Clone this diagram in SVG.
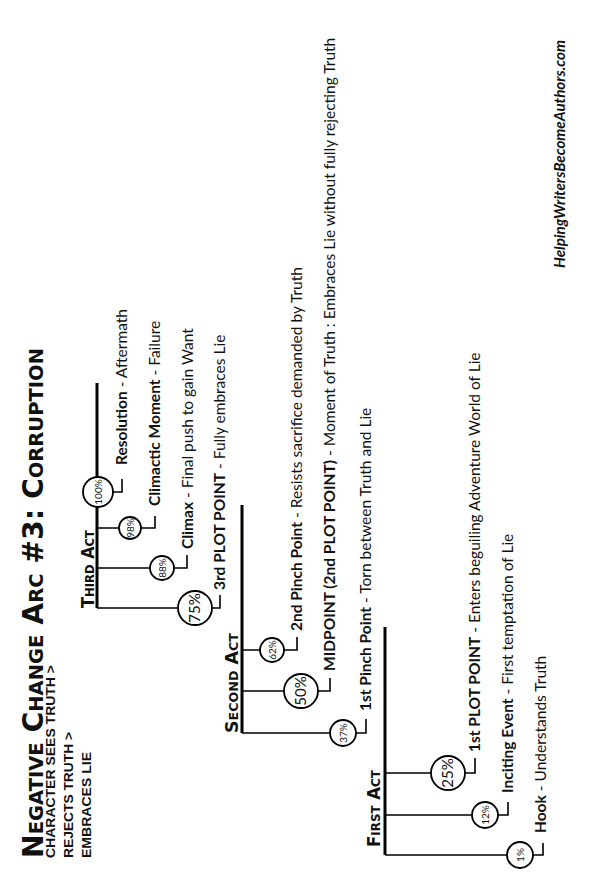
<svg xmlns="http://www.w3.org/2000/svg" width="600" height="884" viewBox="0 0 600 884">
<style>
.act{stroke:#000;stroke-width:3;fill:none}
.br{stroke:#000;stroke-width:1.6;fill:none}
.c{fill:#fff;stroke:#000;stroke-width:1.8}
.lbl{font-family:Lato,"Open Sans","Liberation Sans",sans-serif;font-size:15.5px;fill:#111}
.b{font-weight:bold}
.pct{font-family:Lato,"Open Sans",sans-serif;font-size:10px;fill:#111;text-anchor:middle}
.pctL{font-size:15px}
.title{font-family:"DejaVu Sans","Liberation Sans",sans-serif;font-weight:bold;font-variant:small-caps;font-size:29px;fill:#111}
.sub{font-family:"Liberation Sans","DejaVu Sans",sans-serif;font-weight:bold;font-size:13.5px;fill:#111}
.actl{font-family:"DejaVu Sans","Liberation Sans",sans-serif;font-weight:bold;font-variant:small-caps;font-size:18px;fill:#111}
.site{font-family:Lato,"Open Sans",sans-serif;font-weight:bold;font-style:italic;font-size:15px;fill:#111}
</style>
<rect width="600" height="884" fill="#fff"/>

<g id="title">
<text class="title" transform="translate(43,858) rotate(-90)" textLength="510" lengthAdjust="spacingAndGlyphs">Negative Change Arc #3: Corruption</text>
<text class="sub" transform="translate(55,858) rotate(-90)" textLength="193" lengthAdjust="spacingAndGlyphs">CHARACTER SEES TRUTH &gt;</text>
<text class="sub" transform="translate(73,858) rotate(-90)" textLength="126" lengthAdjust="spacingAndGlyphs">REJECTS TRUTH &gt;</text>
<text class="sub" transform="translate(91,858) rotate(-90)" textLength="106" lengthAdjust="spacingAndGlyphs">EMBRACES LIE</text>
</g>

<g id="connectors">
<path class="act" d="M97,383V608"/>
<path class="act" d="M242,505V733"/>
<path class="act" d="M385,627V855"/>
<path class="br" d="M97,528H119M97,568H150M97,608H178"/>
<path class="br" d="M242,650H260M242,691H284M242,733H330"/>
<path class="br" d="M385,773H431M385,815H472M385,855H507"/>
<path class="br" d="M113,492H122V479M141,528H155V516M174,568H187V555M212,608H220V595"/>
<path class="br" d="M284,650H297V637M318,691H330V678M356,733H366V719"/>
<path class="br" d="M465,773H475V758M498,815H508V802M533,855H543V843"/>
</g>

<g id="act3">
<text class="actl" transform="translate(94,608) rotate(-90)" textLength="78" lengthAdjust="spacingAndGlyphs">Third Act</text>
</g>
<g id="act2">
<text class="actl" transform="translate(238,733) rotate(-90)" textLength="100" lengthAdjust="spacingAndGlyphs">Second Act</text>
</g>
<g id="act1">
<text class="actl" transform="translate(380,847) rotate(-90)" textLength="77" lengthAdjust="spacingAndGlyphs">First Act</text>
</g>

<g id="n100">
<circle class="c" cx="98" cy="492" r="15"/>
<text class="pct" transform="translate(98,492) rotate(-90)" y="3.5">100%</text>
<text class="lbl" transform="translate(127,465) rotate(-90)"><tspan class="b">Resolution</tspan> - Aftermath</text>
</g>
<g id="n98">
<circle class="c" cx="130" cy="528" r="11"/>
<text class="pct" transform="translate(130,528) rotate(-90)" y="3.5">98%</text>
<text class="lbl" transform="translate(160,506) rotate(-90)"><tspan class="b">Climactic Moment</tspan> - Failure</text>
</g>
<g id="n88">
<circle class="c" cx="162" cy="568" r="12"/>
<text class="pct" transform="translate(162,568) rotate(-90)" y="3.5">88%</text>
<text class="lbl" transform="translate(193,549) rotate(-90)"><tspan class="b">Climax</tspan> - Final push to gain Want</text>
</g>
<g id="n75">
<circle class="c" cx="195" cy="608" r="17"/>
<text class="pct pctL" transform="translate(195,608) rotate(-90)" y="5.3">75%</text>
<text class="lbl" transform="translate(225,590) rotate(-90)"><tspan class="b">3rd PLOT POINT</tspan> - Fully embraces Lie</text>
</g>
<g id="n62">
<circle class="c" cx="272" cy="650" r="12"/>
<text class="pct" transform="translate(272,650) rotate(-90)" y="3.5">62%</text>
<text class="lbl" transform="translate(302,631) rotate(-90)"><tspan class="b">2nd Pinch Point</tspan> - Resists sacrifice demanded by Truth</text>
</g>
<g id="n50">
<circle class="c" cx="301" cy="691" r="17"/>
<text class="pct pctL" transform="translate(301,691) rotate(-90)" y="5.3">50%</text>
<text class="lbl" transform="translate(335,671) rotate(-90)"><tspan class="b">MIDPOINT (2nd PLOT POINT)</tspan> - Moment of Truth : Embraces Lie without fully rejecting Truth</text>
</g>
<g id="n37">
<circle class="c" cx="343" cy="733" r="13"/>
<text class="pct" transform="translate(343,733) rotate(-90)" y="3.5">37%</text>
<text class="lbl" transform="translate(371,711) rotate(-90)"><tspan class="b">1st Pinch Point</tspan> - Torn between Truth and Lie</text>
</g>
<g id="n25">
<circle class="c" cx="448" cy="773" r="17"/>
<text class="pct pctL" transform="translate(448,773) rotate(-90)" y="5.3">25%</text>
<text class="lbl" transform="translate(480,752) rotate(-90)"><tspan class="b">1st PLOT POINT</tspan> - Enters beguiling Adventure World of Lie</text>
</g>
<g id="n12">
<circle class="c" cx="485" cy="815" r="13"/>
<text class="pct" transform="translate(485,815) rotate(-90)" y="3.5">12%</text>
<text class="lbl" transform="translate(513,793) rotate(-90)"><tspan class="b">Inciting Event</tspan> - First temptation of Lie</text>
</g>
<g id="n1">
<circle class="c" cx="520" cy="855" r="13"/>
<text class="pct" transform="translate(520,855) rotate(-90)" y="3.5">1%</text>
<text class="lbl" transform="translate(546,833) rotate(-90)"><tspan class="b">Hook</tspan> - Understands Truth</text>
</g>

<g id="site">
<text class="site" transform="translate(565,268) rotate(-90)" textLength="228" lengthAdjust="spacingAndGlyphs">HelpingWritersBecomeAuthors.com</text>
</g>
</svg>
